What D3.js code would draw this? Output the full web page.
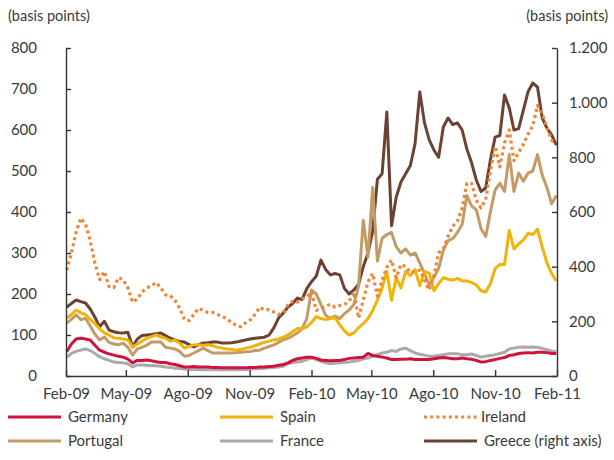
<!DOCTYPE html>
<html>
<head>
<meta charset="utf-8">
<script src="https://cdn.jsdelivr.net/npm/d3@7/dist/d3.min.js"></script>
<style>
  body { margin: 0; background: #fff; }
  svg text { font-family: Lato, "Open Sans", sans-serif; fill: #3a3a3a; }
</style>
</head>
<body>
<div id="chart"></div>
<script>
// weekly observations, first one on 2 Feb 2009
var firstWeek = "2009-02-02";
var weekCount = 105;

var tickDates = ["2009-02-01", "2009-05-01", "2009-08-01", "2009-11-01", "2010-02-01",
  "2010-05-01", "2010-08-01", "2010-11-01", "2011-02-01"];
var tickLabels = ["Feb-09", "May-09", "Ago-09", "Nov-09", "Feb-10", "May-10", "Ago-10", "Nov-10", "Feb-11"];
var leftTicks = [0, 100, 200, 300, 400, 500, 600, 700, 800];
var rightTicks = [0, 200, 400, 600, 800, 1000, 1200];
var rightLabels = ["0", "200", "400", "600", "800", "1.000", "1.200"];

var germany = [59, 78, 90, 92, 90, 88, 75, 63, 58, 54,
  51, 48, 46, 41, 32, 38, 38, 39, 37, 35,
  33, 33, 30, 28, 25, 22, 22, 23, 22, 22,
  22, 21, 21, 20, 20, 20, 20, 20, 20, 21,
  21, 22, 22, 23, 24, 26, 28, 32, 38, 42,
  44, 46, 46, 43, 39, 38, 37, 38, 38, 40,
  43, 44, 45, 46, 55, 50, 48, 46, 44, 40,
  40, 41, 41, 42, 40, 40, 40, 40, 42, 44,
  45, 44, 42, 42, 44, 42, 41, 38, 34, 35,
  38, 40, 43, 45, 50, 52, 55, 56, 57, 56,
  58, 58, 57, 55, 55];

var spain = [141, 150, 161, 154, 150, 138, 128, 115, 105, 100,
  93, 92, 90, 88, 71, 78, 85, 92, 96, 100,
  95, 92, 85, 88, 80, 68, 72, 76, 76, 75,
  76, 74, 70, 68, 66, 65, 63, 65, 68, 70,
  74, 78, 82, 85, 88, 90, 95, 100, 108, 116,
  115, 120, 130, 145, 140, 138, 140, 142, 125, 110,
  100, 105, 118, 128, 140, 160, 185, 215, 255, 185,
  240, 215, 255, 245, 260, 220, 255, 251, 208, 225,
  240, 236, 234, 238, 232, 232, 228, 222, 208, 205,
  225, 262, 272, 272, 355, 310, 322, 332, 348, 345,
  358, 315, 276, 250, 232];

var ireland = [258, 300, 350, 385, 370, 330, 275, 235, 255, 218,
  215, 240, 235, 215, 180, 188, 205, 215, 220, 228,
  215, 198, 196, 185, 165, 138, 135, 150, 165, 160,
  155, 155, 150, 145, 140, 130, 124, 120, 130, 137,
  150, 168, 161, 162, 156, 150, 155, 173, 182, 180,
  188, 193, 205, 160, 165, 170, 175, 168, 172, 175,
  182, 205, 141, 185, 230, 250, 195, 235, 265, 283,
  240, 272, 267, 252, 255, 258, 234, 210, 245, 300,
  310, 340, 365, 378, 410, 470, 470, 429, 410, 430,
  500, 560, 510, 568, 600, 525, 545, 565, 590, 610,
  660, 640, 607, 575, 568];

var portugal = [129, 138, 149, 137, 141, 122, 102, 88, 95, 82,
  78, 76, 80, 70, 51, 66, 70, 75, 83, 83,
  83, 70, 68, 66, 60, 48, 50, 56, 62, 68,
  62, 56, 56, 56, 56, 56, 57, 58, 59, 60,
  62, 63, 68, 72, 76, 82, 88, 92, 98, 105,
  115, 140, 210, 200, 175, 148, 141, 146, 140, 152,
  161, 175, 220, 380, 290, 460, 280, 336, 345, 350,
  315, 300, 310, 295, 300, 276, 250, 222, 241, 262,
  307, 330, 335, 350, 370, 440, 415, 405, 360, 340,
  400, 454, 470, 450, 540, 450, 495, 475, 495, 500,
  540, 490, 460, 420, 440];

var france = [46, 55, 60, 63, 66, 62, 55, 47, 42, 38,
  34, 33, 32, 30, 22, 27, 27, 26, 25, 25,
  24, 22, 21, 19, 18, 17, 16, 16, 16, 15,
  15, 15, 15, 15, 15, 15, 15, 16, 16, 17,
  18, 18, 19, 20, 21, 22, 24, 30, 33, 34,
  36, 40, 44, 40, 36, 32, 30, 31, 32, 33,
  34, 36, 38, 42, 44, 48, 52, 56, 58, 62,
  60, 66, 68, 62, 56, 53, 51, 48, 48, 50,
  52, 54, 54, 54, 52, 52, 54, 50, 46, 48,
  50, 52, 55, 58, 66, 68, 70, 71, 70, 71,
  70, 67, 64, 61, 59];

// right axis
var greece = [252, 265, 278, 272, 267, 245, 215, 180, 200, 168,
  162, 158, 157, 160, 106, 135, 148, 150, 152, 155,
  157, 148, 138, 132, 126, 124, 115, 106, 115, 121,
  122, 124, 124, 121, 121, 122, 124, 128, 132, 135,
  138, 140, 142, 150, 176, 212, 230, 252, 265, 285,
  280, 320, 345, 365, 424, 390, 370, 375, 370, 320,
  300, 315, 335, 400, 450, 530, 720, 740, 966, 550,
  655, 710, 740, 770, 850, 1039, 926, 864, 827, 800,
  911, 944, 920, 926, 900, 830, 780, 717, 675, 688,
  790, 874, 880, 1028, 981, 900, 905, 973, 1040, 1072,
  1057, 944, 907, 882, 845];

(function () {
  var width = 614,
    height = 460;
  var plotLeft = 66, plotRight = 557, plotTop = 48, plotBottom = 376;

  var parse = d3.timeParse("%Y-%m-%d");
  var weeks = d3.range(weekCount).map(function (i) {
    return d3.timeDay.offset(parse(firstWeek), 7 * i);
  });

  var svg = d3.select("#chart")
    .append("svg")
    .attr("width", width)
    .attr("height", height);

  var x = d3.scaleTime()
    .domain([parse("2009-02-01"), parse("2011-02-01")])
    .range([plotLeft, plotRight]);
  var yLeft = d3.scaleLinear().domain([0, 800]).range([plotBottom, plotTop]);
  var yRight = d3.scaleLinear().domain([0, 1200]).range([plotBottom, plotTop]);

  var series = [
    { name: "Greece (right axis)", values: greece, color: "#6b4332", y: yRight },
    { name: "Portugal", values: portugal, color: "#c39b66", y: yLeft },
    { name: "Spain", values: spain, color: "#efb30a", y: yLeft },
    { name: "France", values: france, color: "#aaaaaa", y: yLeft },
    { name: "Germany", values: germany, color: "#d1123f", y: yLeft },
    { name: "Ireland", values: ireland, color: "#ef8434", y: yLeft, dash: "3,3.2" }
  ];

  series.forEach(function (s) {
    var line = d3.line()
      .x(function (d, i) { return x(weeks[i]); })
      .y(function (d) { return s.y(d); });
    svg.append("path")
      .datum(s.values)
      .attr("fill", "none")
      .attr("stroke", s.color)
      .attr("stroke-width", s.dash ? 3.2 : 3)
      .attr("stroke-linejoin", "round")
      .attr("stroke-dasharray", s.dash || null)
      .attr("d", line);
  });

  // axes, ticks pointing into the plot
  var axisColor = "#333";
  var gx = svg.append("g")
    .attr("transform", "translate(0," + plotBottom + ")")
    .call(d3.axisBottom(x)
      .tickValues(tickDates.map(parse))
      .tickFormat(function (d, i) { return tickLabels[i]; })
      .tickSize(-6).tickSizeOuter(0).tickPadding(12));

  var gl = svg.append("g")
    .attr("transform", "translate(" + plotLeft + ",0)")
    .call(d3.axisLeft(yLeft).tickValues(leftTicks)
      .tickSize(-5).tickSizeOuter(0).tickPadding(29));

  var gr = svg.append("g")
    .attr("transform", "translate(" + plotRight + ",0)")
    .call(d3.axisRight(yRight).tickValues(rightTicks)
      .tickFormat(function (d, i) { return rightLabels[i]; })
      .tickSize(-5).tickSizeOuter(0).tickPadding(12));

  [gx, gl, gr].forEach(function (g) {
    g.selectAll("path, line").attr("stroke", axisColor).attr("stroke-width", 1.4);
    g.selectAll("text").attr("font-size", "15px").attr("fill", "#3a3a3a");
  });

  svg.append("text").attr("x", 8).attr("y", 21).attr("font-size", "14.5px").text("(basis points)");
  svg.append("text").attr("x", 608).attr("y", 21).attr("text-anchor", "end")
    .attr("font-size", "14.5px").text("(basis points)");

  // legend
  var legendOrder = ["Germany", "Spain", "Ireland", "Portugal", "France", "Greece (right axis)"];
  var colX = [8, 220, 424];
  var legend = svg.selectAll(".legend")
    .data(legendOrder)
    .enter().append("g")
    .attr("class", "legend")
    .attr("transform", function (d, i) {
      return "translate(" + colX[i % 3] + "," + (417 + Math.floor(i / 3) * 24) + ")";
    });

  legend.append("line")
    .attr("x1", 0).attr("x2", 53)
    .attr("stroke", function (d) { return series.find(function (s) { return s.name === d; }).color; })
    .attr("stroke-width", 3)
    .attr("stroke-dasharray", function (d) { return d === "Ireland" ? "3,3.2" : null; });

  legend.append("text")
    .attr("x", function (d) { return d === "Ireland" ? 57 : 60; })
    .attr("dy", "0.35em")
    .attr("font-size", "15px")
    .text(function (d) { return d; });
})();
</script>
</body>
</html>
